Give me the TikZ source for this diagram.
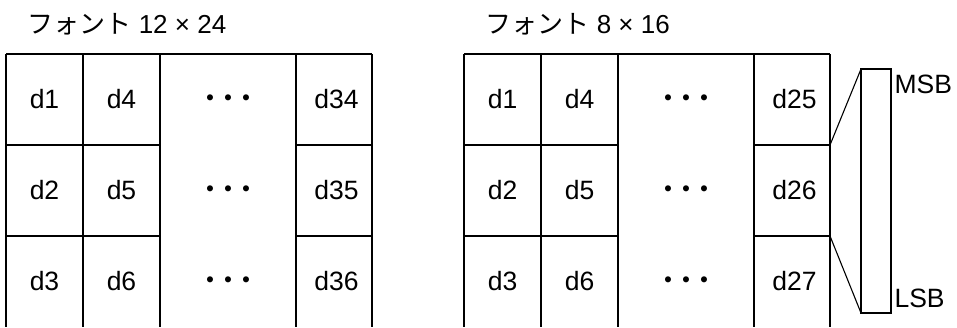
\documentclass[tikz,border=0pt]{standalone}
\usepackage{fontspec}
\setmainfont{Liberation Sans}
\newfontfamily\cjk{Noto Sans CJK JP}
\usetikzlibrary{positioning}

\newcommand{\celldots}{\raisebox{-4pt}[\height][\depth]{･･･}}

\begin{document}
\begin{tikzpicture}[x=1pt, y=-1pt, node distance=0pt, line width=1.1pt,
    cell/.style={rectangle, inner sep=0pt, outer sep=0pt, minimum width=77pt, minimum height=91pt, font=\fontsize{26.5}{30}\selectfont},
    wide/.style={cell, minimum width=136pt, font=\cjk\fontsize{36}{36}\selectfont},
    narrow/.style={cell, minimum width=76pt},
    title/.style={anchor=base west, inner sep=0pt, font=\fontsize{26}{30}\selectfont},
    bitbox/.style={draw, rectangle, inner sep=0pt, outer sep=0pt, minimum width=30pt, minimum height=244pt}]
    \useasboundingbox (0,0) rectangle (957,327);

    % font 12x24
    \node [title] (t1) at (27,33) {{\cjk フォント} 12 × 24};
    \node [cell, anchor=north west] (l11) at (6,54) {d1};
    \node [cell, below=of l11] (l21) {d2};
    \node [cell, below=of l21] (l31) {d3};
    \node [cell, right=of l11] (l12) {d4};
    \node [cell, below=of l12] (l22) {d5};
    \node [cell, below=of l22] (l32) {d6};
    \node [wide, right=of l12] (l13) {\celldots};
    \node [wide, below=of l13] (l23) {\celldots};
    \node [wide, below=of l23] (l33) {\celldots};
    \node [narrow, right=of l13] (l14) {\hspace{5pt}d34};
    \node [narrow, below=of l14] (l24) {\hspace{5pt}d35};
    \node [narrow, below=of l24] (l34) {\hspace{5pt}d36};

    % font 8x16
    \node [title] (t2) at (485,33) {{\cjk フォント} 8 × 16};
    \node [cell, anchor=north west] (r11) at (464,54) {d1};
    \node [cell, below=of r11] (r21) {d2};
    \node [cell, below=of r21] (r31) {d3};
    \node [cell, right=of r11] (r12) {d4};
    \node [cell, below=of r12] (r22) {d5};
    \node [cell, below=of r22] (r32) {d6};
    \node [wide, right=of r12] (r13) {\celldots};
    \node [wide, below=of r13] (r23) {\celldots};
    \node [wide, below=of r23] (r33) {\celldots};
    \node [narrow, right=of r13] (r14) {\hspace{5pt}d25};
    \node [narrow, below=of r14] (r24) {\hspace{5pt}d26};
    \node [narrow, below=of r24] (r34) {\hspace{5pt}d27};

    % grid lines, open at the bottom
    \foreach \g in {l,r} {
        \draw (\g11.north west) -- (\g14.north east);
        \draw (\g11.north west) -- (\g31.south west);
        \draw (\g12.north west) -- (\g32.south west);
        \draw (\g13.north west) -- (\g33.south west);
        \draw (\g14.north west) -- (\g34.south west);
        \draw (\g14.north east) -- (\g34.south east);
        \draw (\g11.south west) -- (\g12.south east);
        \draw (\g21.south west) -- (\g22.south east);
        \draw (\g14.south west) -- (\g14.south east);
        \draw (\g24.south west) -- (\g24.south east);
    }

    % bit order of one byte
    \node [bitbox] (bits) at (876,191) {};
    \draw (r14.south east) -- (bits.north west);
    \draw (r34.north east) -- (bits.south west);
    \node [anchor=base west, inner sep=0pt, xshift=3pt, yshift=-24pt, font=\fontsize{26.5}{30}\selectfont] (msb) at (bits.north east) {MSB};
    \node [anchor=base west, inner sep=0pt, xshift=3pt, yshift=6pt, font=\fontsize{26.5}{30}\selectfont] (lsb) at (bits.south east) {LSB};
\end{tikzpicture}
\end{document}
